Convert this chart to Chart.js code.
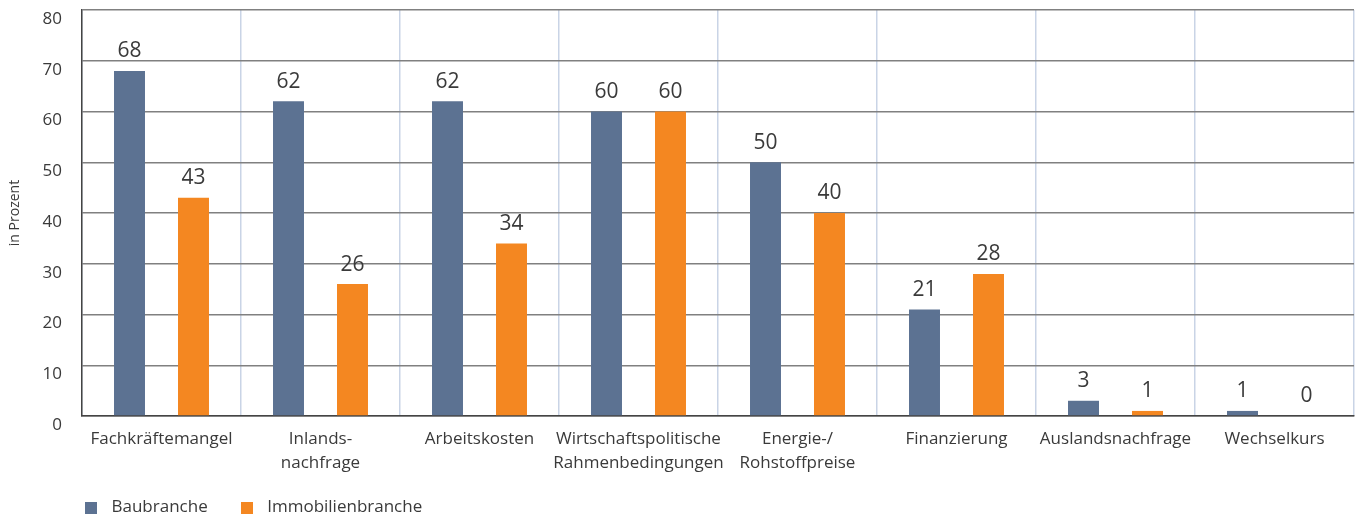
<!DOCTYPE html>
<html>
<head>
<meta charset="utf-8">
<script src="https://cdn.jsdelivr.net/npm/chart.js@4"></script>
<style>
    html, body { margin: 0; padding: 0; background: #fff; }
    #wrap { width: 1358px; height: 518px; }
</style>
</head>
<body>
<div id="wrap"><canvas id="chart"></canvas></div>
<script>
const categories = [
    'Fachkräftemangel',
    ['Inlands-', 'nachfrage'],
    'Arbeitskosten',
    ['Wirtschaftspolitische', 'Rahmenbedingungen'],
    ['Energie-/', 'Rohstoffpreise'],
    'Finanzierung',
    'Auslandsnachfrage',
    'Wechselkurs',
];
const baubranche = [68, 62, 62, 60, 50, 21, 3, 1];
const immobilienbranche = [43, 26, 34, 60, 40, 28, 1, 0];
const yTicks = [0, 10, 20, 30, 40, 50, 60, 70, 80];
const seriesColors = ['#5c7292', '#f48721'];

const FONT = "'Open Sans', 'Noto Sans', sans-serif";
const TEXT = '#3a3a3a';

// small filled square used as legend marker
const makeSquare = (color) => {
    const c = document.createElement('canvas');
    c.width = 12;
    c.height = 12;
    const g = c.getContext('2d');
    g.fillStyle = color;
    g.fillRect(0, 0, 12, 12);
    return c;
};
const squares = seriesColors.map(makeSquare);

const valueLabels = {
    id: 'valueLabels',
    afterDatasetsDraw(chart) {
        const { ctx } = chart;
        ctx.save();
        ctx.font = `21px ${FONT}`;
        ctx.fillStyle = TEXT;
        ctx.textAlign = 'center';
        ctx.textBaseline = 'bottom';
        chart.data.datasets.forEach((ds, i) => {
            chart.getDatasetMeta(i).data.forEach((bar, j) => {
                ctx.fillText(String(ds.data[j]), bar.x, bar.y - 9);
            });
        });
        ctx.restore();
    },
};

// nudge the legend under the plot like in the original layout
const legendShift = {
    id: 'legendShift',
    afterLayout(chart) {
        chart.legend.left = 52;
        chart.legend.top -= 6;
    },
};

const noScalePadding = (scale) => {
    scale.paddingTop = 0;
    scale.paddingBottom = 0;
    scale.paddingLeft = 0;
    scale.paddingRight = 0;
};

new Chart(document.getElementById('chart'), {
    type: 'bar',
    data: {
        labels: categories,
        datasets: [
            {
                label: 'Baubranche',
                data: baubranche,
                backgroundColor: seriesColors[0],
            },
            {
                label: 'Immobilienbranche',
                data: immobilienbranche,
                backgroundColor: seriesColors[1],
            },
        ],
    },
    options: {
        responsive: true,
        maintainAspectRatio: false,
        animation: false,
        categoryPercentage: 0.805,
        barPercentage: 0.484,
        layout: { padding: { top: 10, right: 4, left: 0, bottom: 0 } },
        plugins: {
            tooltip: { enabled: false },
            legend: {
                position: 'bottom',
                align: 'start',
                maxHeight: 40,
                labels: {
                    usePointStyle: true,
                    pointStyleWidth: 24,
                    boxHeight: 12,
                    padding: 27,
                    color: TEXT,
                    font: { family: FONT, size: 17 },
                    generateLabels: (chart) => {
                        const items = Chart.defaults.plugins.legend.labels.generateLabels(chart);
                        items.forEach((item, i) => {
                            item.pointStyle = squares[i];
                        });
                        return items;
                    },
                },
            },
        },
        scales: {
            x: {
                grid: {
                    offset: true,
                    color: '#c9d4e6',
                    lineWidth: 1.5,
                    drawTicks: false,
                },
                border: { color: '#444', width: 1.5 },
                ticks: {
                    padding: 11,
                    color: TEXT,
                    font: { family: FONT, size: 17, lineHeight: 1.4 },
                    maxRotation: 0,
                    autoSkip: false,
                },
                afterFit: (scale) => {
                    scale.height = 62;
                    noScalePadding(scale);
                },
            },
            y: {
                min: 0,
                max: 80,
                afterBuildTicks: (scale) => {
                    scale.ticks = yTicks.map((v) => ({ value: v }));
                },
                grid: { color: '#808080', lineWidth: 1.5, drawTicks: false },
                border: { color: '#444', width: 1.5 },
                ticks: {
                    padding: 20,
                    labelOffset: 9,
                    color: TEXT,
                    font: { family: FONT, size: 17 },
                },
                title: {
                    display: true,
                    text: 'in Prozent',
                    color: TEXT,
                    font: { family: FONT, size: 14 },
                    padding: { top: 7, bottom: 0 },
                },
                afterFit: (scale) => {
                    scale.width = 82;
                    noScalePadding(scale);
                },
            },
        },
    },
    plugins: [valueLabels, legendShift],
});
</script>
</body>
</html>
